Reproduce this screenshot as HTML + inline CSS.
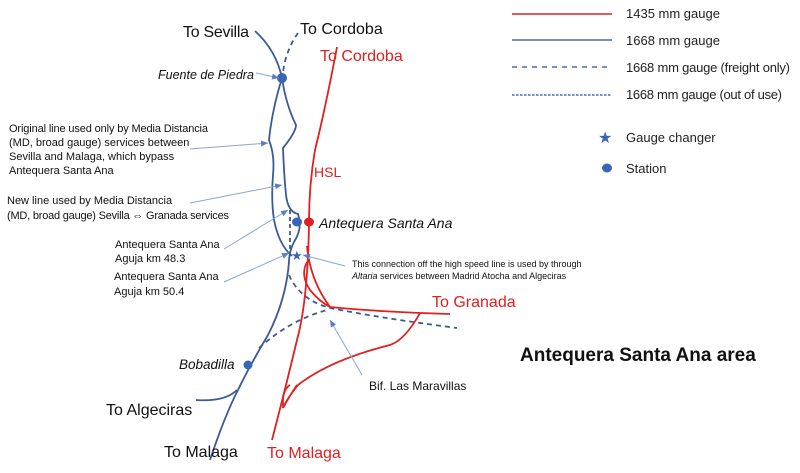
<!DOCTYPE html>
<html><head><meta charset="utf-8"><style>
body{margin:0;background:#fff;}
svg{display:block;font-family:"Liberation Sans",sans-serif;}
.b{fill:none;stroke:#3a5a96;stroke-width:1.8}
.r{fill:none;stroke:#e02020;stroke-width:1.8}
.a{stroke:#8aa6cf;stroke-width:1;fill:none}
</style></head><body>
<svg width="800" height="473" viewBox="0 0 800 473">
<defs><marker id="ar" markerWidth="8" markerHeight="8" refX="7" refY="4" orient="auto"><path d="M0,1 L7,4 L0,7z" fill="#5a7fc0"/></marker></defs>
<line x1="512" y1="14" x2="612" y2="14" stroke="#e02020" stroke-width="1.6"/>
<line x1="512" y1="40" x2="612" y2="40" stroke="#4a6cb0" stroke-width="1.4"/>
<line x1="512" y1="67" x2="612" y2="67" stroke="#4a6cb0" stroke-width="1.4" stroke-dasharray="5,5"/>
<line x1="512" y1="95" x2="612" y2="95" stroke="#4a6cb0" stroke-width="1.4" stroke-dasharray="2.5,1.5"/>
<g font-size="13" fill="#222">
<text x="626" y="18">1435 mm gauge</text>
<text x="626" y="45">1668 mm gauge</text>
<text x="626" y="72" textLength="164">1668 mm gauge (freight only)</text>
<text x="626" y="99" textLength="156">1668 mm gauge (out of use)</text>
<text x="626" y="142">Gauge changer</text>
<text x="626" y="173">Station</text>
</g>
<text x="598" y="143" font-size="16" fill="#3a64b8">★</text>
<ellipse cx="607" cy="168" rx="5" ry="4.5" fill="#3a64b8"/>
<path class="b" d="M255,31 Q276,50 282,78 Q272,110 269,140 Q275,155 273,175 Q271,200 274,220 Q279,245 292,256"/>
<path class="b" d="M282,78 Q286,105 296,125 Q296,132 283,148 Q284,175 286,195 Q288,212 298,214 Q303,228 294,242 Q289,252 289,262 Q286,300 268,335 Q250,365 238,390 Q225,415 210,460"/>
<path class="b" d="M237,390 Q225,402 196,400"/>
<path class="b" stroke-dasharray="5,4" d="M298,33 Q286,50 283,72"/>
<path class="b" stroke-dasharray="4,3" d="M290,210 L290,250"/>
<path class="b" stroke-dasharray="5,4" d="M289,275 Q300,300 330,308 Q380,318 457,328"/>
<path class="b" stroke-dasharray="5,4" d="M259,348 Q290,320 327,310"/>
<path class="r" d="M337,47 Q325,110 315,150 Q309,185 309,222 Q308,300 297,340 Q285,390 272,440"/>
<path class="r" d="M308,250 L307,246 Q310,280 330,307 Q380,312 450,314"/>
<path class="r" d="M307,262 Q300,275 310,290 Q320,302 330,307"/>
<path class="r" d="M420,313 Q405,340 390,345 Q330,360 298,385 Q286,400 283,408 Q290,395 297,385"/>
<path class="r" d="M290,385 Q282,390 283,405 L283,408"/>
<circle cx="282" cy="78" r="5" fill="#3a64b8"/>
<ellipse cx="297" cy="222" rx="5" ry="4.5" fill="#3a64b8"/>
<ellipse cx="309" cy="222" rx="5" ry="4.5" fill="#e02020"/>
<circle cx="248" cy="365" r="4.5" fill="#3a64b8"/>
<text x="291" y="260" font-size="13" fill="#3a64b8">★</text>
<line class="a" x1="256" y1="73" x2="279" y2="78" marker-end="url(#ar)"/>
<line class="a" x1="190" y1="149" x2="268" y2="143" marker-end="url(#ar)"/>
<line class="a" x1="190" y1="203" x2="282" y2="185" marker-end="url(#ar)"/>
<line class="a" x1="224" y1="249" x2="288" y2="210" marker-end="url(#ar)"/>
<line class="a" x1="224" y1="282" x2="289" y2="253" marker-end="url(#ar)"/>
<line class="a" x1="345" y1="266" x2="303" y2="255" marker-end="url(#ar)"/>
<line class="a" x1="362" y1="375" x2="330" y2="320" marker-end="url(#ar)"/>
<g fill="#111">
<text x="183" y="37" font-size="16" textLength="66">To Sevilla</text>
<text x="300" y="34" font-size="16">To Cordoba</text>
<text x="158" y="79" font-size="12.5" font-style="italic">Fuente de Piedra</text>
<text x="319" y="228" font-size="14" font-style="italic">Antequera Santa Ana</text>
<text x="179" y="369" font-size="13.5" font-style="italic">Bobadilla</text>
<text x="106" y="415" font-size="16">To Algeciras</text>
<text x="164" y="457" font-size="16">To Malaga</text>
<text x="369" y="390" font-size="12">Bif. Las Maravillas</text>
<text x="520" y="361" font-size="19" font-weight="bold">Antequera Santa Ana area</text>
<g font-size="11">
<text x="9" y="132" textLength="199">Original line used only by Media Distancia</text>
<text x="9" y="146">(MD, broad gauge) services between</text>
<text x="9" y="160">Sevilla and Malaga, which bypass</text>
<text x="9" y="174">Antequera Santa Ana</text>
<text x="7" y="204">New line used by Media Distancia</text>
<text x="7" y="219" textLength="222">(MD, broad gauge) Sevilla ⇔ Granada services</text>
<text x="115" y="248">Antequera Santa Ana</text>
<text x="115" y="262">Aguja km 48.3</text>
<text x="114" y="280">Antequera Santa Ana</text>
<text x="114" y="295">Aguja km 50.4</text>
</g>
<g font-size="9">
<text x="352" y="267">This connection off the high speed line is used by through</text>
<text x="352" y="279"><tspan font-style="italic">Altaria</tspan> services between Madrid Atocha and Algeciras</text>
</g>
</g>
<g fill="#e02020" font-size="16">
<text x="320" y="61">To Cordoba</text>
<text x="314" y="177" font-size="14">HSL</text>
<text x="432" y="307">To Granada</text>
<text x="267" y="458">To Malaga</text>
</g>
</svg>
</body></html>
